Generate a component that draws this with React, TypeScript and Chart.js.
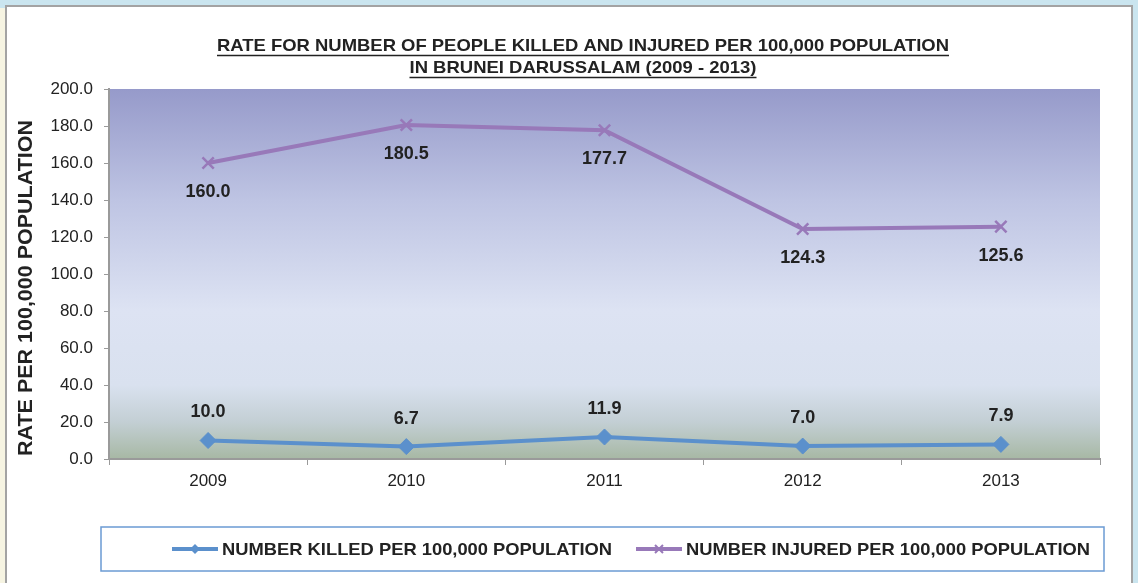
import React, { useEffect, useRef } from "react";
import { Chart, registerables } from "chart.js";

Chart.register(...registerables);

const years = ["2009", "2010", "2011", "2012", "2013"];
const killed = [10.0, 6.7, 11.9, 7.0, 7.9];
const injured = [160.0, 180.5, 177.7, 124.3, 125.6];
const titleLines = [
  "RATE FOR NUMBER OF PEOPLE KILLED AND INJURED PER 100,000 POPULATION",
  "IN BRUNEI DARUSSALAM (2009 - 2013)",
];
const yTitle = "RATE PER 100,000 POPULATION";
const seriesNames = [
  "NUMBER KILLED PER 100,000 POPULATION",
  "NUMBER INJURED PER 100,000 POPULATION",
];

const BLUE = "#5b90cc";
const PURPLE = "#9879b9";
const FONT = "'Liberation Sans', Arial, sans-serif";

function fillScaled(ctx: any, text: string, x: number, y: number, target: number, align: string) {
  const w = ctx.measureText(text).width;
  const k = target / w;
  ctx.save();
  ctx.translate(x, y);
  ctx.scale(k, 1);
  ctx.textAlign = align;
  ctx.fillText(text, 0, 0);
  ctx.restore();
  return w * k;
}

const decorPlugin = {
  id: "decor",
  beforeDraw(chart: any) {
    const { ctx, chartArea: a } = chart;
    const g = ctx.createLinearGradient(0, a.top, 0, a.bottom);
    g.addColorStop(0, "#969aca");
    g.addColorStop(0.3, "#bec4e3");
    g.addColorStop(0.6, "#dde3f3");
    g.addColorStop(0.8, "#d9e1ef");
    g.addColorStop(0.9, "#c3cfd4");
    g.addColorStop(1, "#a7b8a4");
    ctx.save();
    ctx.fillStyle = g;
    ctx.fillRect(a.left, a.top, a.right - a.left, a.bottom - a.top);
    ctx.restore();
  },
  afterDraw(chart: any) {
    const { ctx } = chart;
    ctx.save();
    // Title
    ctx.fillStyle = "#222";
    ctx.strokeStyle = "#222";
    ctx.font = `bold 17px ${FONT}`;
    ctx.textBaseline = "middle";
    const ys = [46, 68];
    const widths = [732, 347];
    titleLines.forEach((t, i) => {
      const w = fillScaled(ctx, t, 583, ys[i], widths[i], "center");
      ctx.lineWidth = 1.4;
      ctx.beginPath();
      ctx.moveTo(583 - w / 2, ys[i] + 9.5);
      ctx.lineTo(583 + w / 2, ys[i] + 9.5);
      ctx.stroke();
    });
    // Y title
    ctx.save();
    ctx.translate(26, 288);
    ctx.rotate(-Math.PI / 2);
    ctx.font = `bold 20px ${FONT}`;
    fillScaled(ctx, yTitle, 0, 0, 336, "center");
    ctx.restore();

    // Legend box
    ctx.strokeStyle = "#6b9bd3";
    ctx.lineWidth = 1.5;
    ctx.strokeRect(101, 527, 1003, 44);
    const items = [
      { x: 172, color: BLUE, style: "rectRot", name: seriesNames[0], tw: 390 },
      { x: 636, color: PURPLE, style: "crossRot", name: seriesNames[1], tw: 404 },
    ];
    ctx.font = `bold 17px ${FONT}`;
    items.forEach((it) => {
      const y = 549;
      ctx.strokeStyle = it.color;
      ctx.fillStyle = it.color;
      ctx.lineWidth = 4;
      ctx.beginPath();
      ctx.moveTo(it.x, y);
      ctx.lineTo(it.x + 46, y);
      ctx.stroke();
      ctx.lineWidth = 2;
      const cx = it.x + 23;
      if (it.style === "rectRot") {
        ctx.beginPath();
        ctx.moveTo(cx, y - 5);
        ctx.lineTo(cx + 5, y);
        ctx.lineTo(cx, y + 5);
        ctx.lineTo(cx - 5, y);
        ctx.closePath();
        ctx.fill();
      } else {
        ctx.beginPath();
        ctx.moveTo(cx - 4, y - 4);
        ctx.lineTo(cx + 4, y + 4);
        ctx.moveTo(cx + 4, y - 4);
        ctx.lineTo(cx - 4, y + 4);
        ctx.stroke();
      }
      ctx.fillStyle = "#222";
      fillScaled(ctx, it.name, it.x + 50, y + 1, it.tw, "left");
    });
    ctx.restore();
  },
  afterDatasetsDraw(chart: any) {
    const { ctx } = chart;
    ctx.save();
    ctx.font = `bold 18px ${FONT}`;
    ctx.fillStyle = "#222";
    ctx.textAlign = "center";
    ctx.textBaseline = "middle";
    chart.data.datasets.forEach((ds: any, i: number) => {
      const meta = chart.getDatasetMeta(i);
      meta.data.forEach((p: any, j: number) => {
        const v = ds.data[j] as number;
        const dy = i === 0 ? -28 : 29;
        ctx.fillText(v.toFixed(1), p.x, p.y + dy);
      });
    });
    ctx.restore();
  },
};

export default function App() {
  const ref = useRef<HTMLCanvasElement | null>(null);
  useEffect(() => {
    if (!ref.current) return;
    const chart = new Chart(ref.current, {
      type: "line",
      data: {
        labels: years,
        datasets: [
          {
            label: seriesNames[0],
            data: killed,
            borderColor: BLUE,
            backgroundColor: BLUE,
            borderWidth: 4,
            pointStyle: "rectRot",
            pointRadius: 8,
            pointBorderWidth: 1,
            tension: 0,
          },
          {
            label: seriesNames[1],
            data: injured,
            borderColor: PURPLE,
            backgroundColor: PURPLE,
            borderWidth: 4,
            pointStyle: "crossRot",
            pointRadius: 8,
            pointBorderWidth: 2.5,
            tension: 0,
          },
        ],
      },
      options: {
        responsive: false,
        animation: false,
        layout: { padding: { top: 89, left: 0, right: 38, bottom: 0 } },
        plugins: {
          legend: { display: false },
          title: { display: false },
          tooltip: { enabled: false },
        },
        scales: {
          x: {
            offset: true,
            grid: {
              display: true,
              drawOnChartArea: false,
              drawTicks: true,
              tickLength: 6,
              color: "#9a9a9a",
              offset: true,
            },
            border: { display: true, color: "#9a9a9a", width: 2 },
            ticks: {
              color: "#222",
              font: { family: FONT, size: 17 },
              padding: 6,
            },
            afterFit: (s: any) => {
              s.height = 124;
            },
          },
          y: {
            min: 0,
            max: 200,
            grid: {
              display: true,
              drawOnChartArea: false,
              drawTicks: true,
              tickLength: 5,
              color: "#9a9a9a",
            },
            border: { display: true, color: "#9a9a9a", width: 2 },
            ticks: {
              stepSize: 20,
              color: "#222",
              font: { family: FONT, size: 17 },
              padding: 11,
              callback: (v: any) => Number(v).toFixed(1),
            },
            afterFit: (s: any) => {
              s.width = 109;
            },
          },
        },
      },
      plugins: [decorPlugin],
    } as any);
    return () => chart.destroy();
  }, []);

  return (
    <div
      style={{
        position: "fixed",
        left: 0,
        top: 0,
        width: 1138,
        height: 583,
        background: "#cae5ef",
        overflow: "hidden",
      }}
    >
      <div
        style={{
          position: "absolute",
          left: 0,
          top: 8,
          width: 5,
          height: 575,
          background: "#f6f4e2",
        }}
      />
      <div
        style={{
          position: "absolute",
          left: 5,
          top: 5,
          width: 1124,
          height: 590,
          background: "#fff",
          border: "2px solid #a3a3a3",
        }}
      />
      <canvas
        ref={ref}
        width={1138}
        height={583}
        style={{ position: "absolute", left: 0, top: 0, width: 1138, height: 583 }}
      />
    </div>
  );
}
